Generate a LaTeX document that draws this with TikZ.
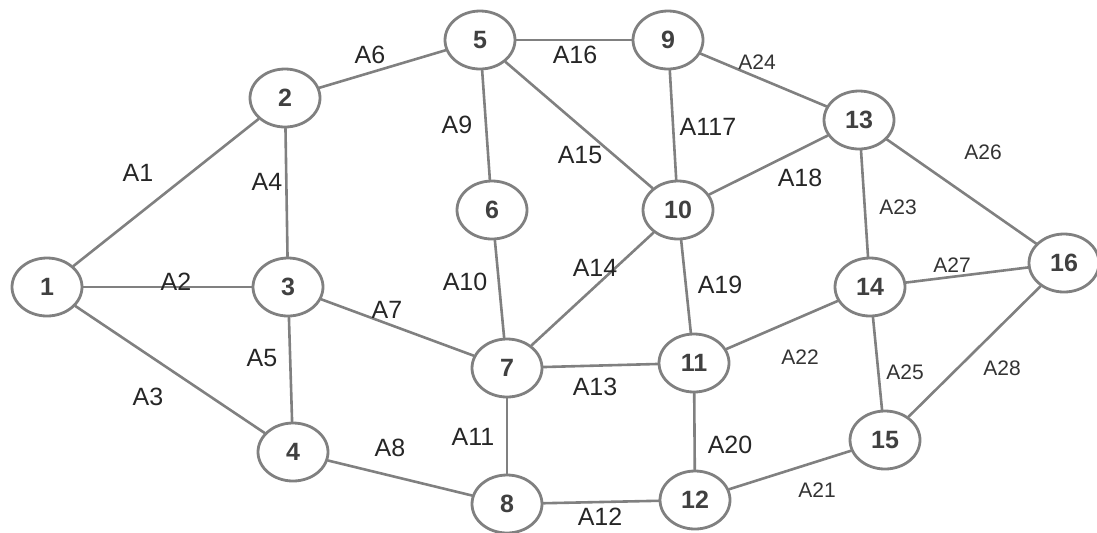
\documentclass[tikz,border=0pt]{standalone}
\usepackage{fontspec}
\setmainfont{Liberation Sans}
\usetikzlibrary{shapes.geometric}

\begin{document}
\begin{tikzpicture}[line cap=round,line join=round,x=0.5pt,y=-0.5pt,
  vertex/.style={ellipse,draw=black!50,line width=1.4pt,fill=white,minimum width=35pt,minimum height=29pt,inner sep=0pt,text=black!75,font=\fontsize{12.5}{13}\selectfont\bfseries},
  link/.style={draw=black!50,line width=1.3pt},
  lbl/.style={text=black!85,inner sep=1pt,font=\fontsize{12.5}{13}\selectfont},
  slbl/.style={text=black!80,inner sep=1pt,font=\fontsize{10.5}{11}\selectfont}]
\useasboundingbox (0,0) rectangle (1097,532);
% vertices
\node[vertex] (n1) at (47,287) {1};
\node[vertex] (n2) at (285,98) {2};
\node[vertex] (n3) at (288,287) {3};
\node[vertex] (n4) at (293,452) {4};
\node[vertex] (n5) at (480,40) {5};
\node[vertex] (n6) at (492,210) {6};
\node[vertex] (n7) at (507,368) {7};
\node[vertex] (n8) at (507,504) {8};
\node[vertex] (n9) at (668,40) {9};
\node[vertex] (n10) at (678,210) {10};
\node[vertex] (n11) at (694,363) {11};
\node[vertex] (n12) at (695,500) {12};
\node[vertex] (n13) at (859,120) {13};
\node[vertex] (n14) at (870,287) {14};
\node[vertex] (n15) at (885,440) {15};
\node[vertex] (n16) at (1064,263) {16};
% arcs
\draw[link] (n1)--(n2);
\draw[link] (n1)--(n3);
\draw[link] (n1)--(n4);
\draw[link] (n2)--(n3);
\draw[link] (n3)--(n4);
\draw[link] (n2)--(n5);
\draw[link] (n3)--(n7);
\draw[link] (n4)--(n8);
\draw[link] (n5)--(n6);
\draw[link] (n6)--(n7);
\draw[link] (n7)--(n8);
\draw[link] (n8)--(n12);
\draw[link] (n7)--(n11);
\draw[link] (n7)--(n10);
\draw[link] (n5)--(n10);
\draw[link] (n5)--(n9);
\draw[link] (n9)--(n10);
\draw[link] (n10)--(n13);
\draw[link] (n10)--(n11);
\draw[link] (n11)--(n12);
\draw[link] (n12)--(n15);
\draw[link] (n11)--(n14);
\draw[link] (n13)--(n14);
\draw[link] (n9)--(n13);
\draw[link] (n14)--(n15);
\draw[link] (n13)--(n16);
\draw[link] (n14)--(n16);
\draw[link] (n15)--(n16);
% arc names
\node[lbl] (a1) at (138,173) {A1};
\node[lbl] (a2) at (176,282) {A2};
\node[lbl] (a3) at (148,397) {A3};
\node[lbl] (a4) at (267,182) {A4};
\node[lbl] (a5) at (262,358) {A5};
\node[lbl] (a6) at (370,55) {A6};
\node[lbl] (a7) at (387,310) {A7};
\node[lbl] (a8) at (390,448) {A8};
\node[lbl] (a9) at (457,125) {A9};
\node[lbl] (a10) at (465,282) {A10};
\node[lbl] (a11) at (473,437) {A11};
\node[lbl] (a12) at (600,517) {A12};
\node[lbl] (a13) at (595,387) {A13};
\node[lbl] (a14) at (595,268) {A14};
\node[lbl] (a15) at (580,155) {A15};
\node[lbl] (a16) at (575,55) {A16};
\node[lbl] (a17) at (708,127) {A117};
\node[lbl] (a18) at (800,178) {A18};
\node[lbl] (a19) at (720,285) {A19};
\node[lbl] (a20) at (730,445) {A20};
\node[slbl] (a21) at (817,490) {A21};
\node[slbl] (a22) at (800,357) {A22};
\node[slbl] (a23) at (898,207) {A23};
\node[slbl] (a24) at (757,62) {A24};
\node[slbl] (a25) at (905,372) {A25};
\node[slbl] (a26) at (983,152) {A26};
\node[slbl] (a27) at (952,265) {A27};
\node[slbl] (a28) at (1002,368) {A28};
\end{tikzpicture}
\end{document}
